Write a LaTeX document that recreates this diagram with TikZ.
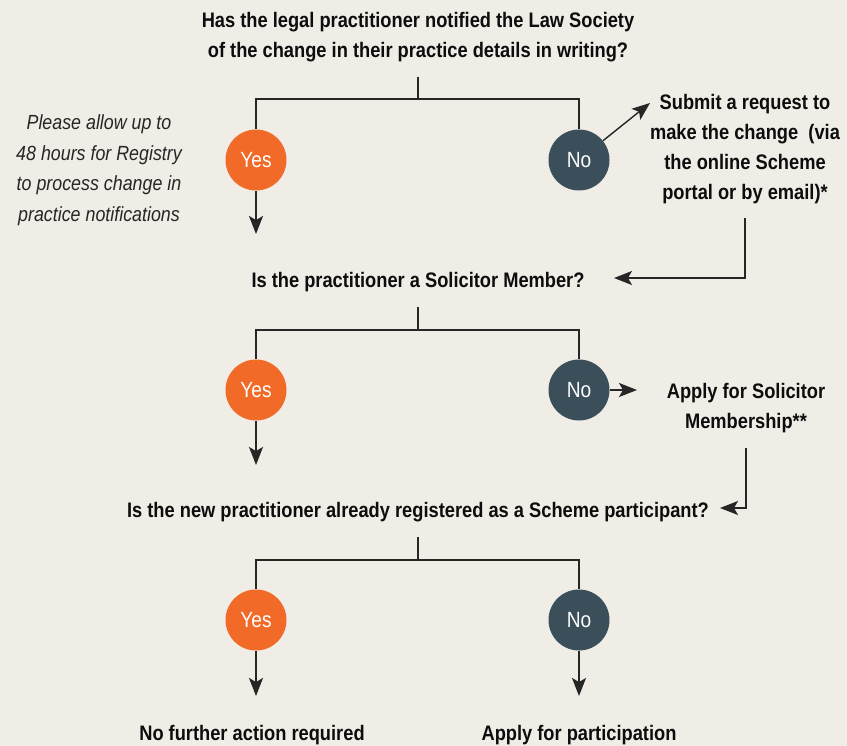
\documentclass[tikz,border=0pt]{standalone}
\usepackage{fontspec}
\setmainfont{Liberation Sans}[FakeStretch=0.87]
\usepackage{xcolor}
\usepackage{tikz}
\usetikzlibrary{arrows.meta,positioning}

\definecolor{bgcol}{HTML}{F0EDE7}
\definecolor{yescol}{HTML}{F26A27}
\definecolor{nocol}{HTML}{3A4F5A}
\definecolor{linecol}{HTML}{262626}
\tikzset{
  ques/.style={font=\bfseries\fontsize{21}{30}\selectfont, align=center, text=black!95, inner sep=0pt},
  note/.style={font=\itshape\fontsize{20.5}{30.5}\selectfont, align=center, text=black!85, inner sep=0pt},
  yesnode/.style={circle, fill=yescol, minimum size=61pt, inner sep=0pt, text=white, font=\fontsize{22}{24}\selectfont},
  nonode/.style={yesnode, fill=nocol},
  conn/.style={draw=linecol, line width=1.4pt},
  arr/.style={conn, -{Stealth[length=18pt,width=14pt,inset=4pt]}},
}

\begin{document}
\begin{tikzpicture}[x=1pt,y=-1pt]
  \fill[bgcol] (0,0) rectangle (847,746); %背景 即边界
  \useasboundingbox (0,0) rectangle (847,746);

  % 问题
  \node[ques] (q1) at (418,37) {Has the legal practitioner notified the Law Society\\of the change in their practice details in writing?};
  \node[ques] (q2) at (418,282) {Is the practitioner a Solicitor Member?};
  \node[ques] (q3) at (418,512) {Is the new practitioner already registered as a Scheme participant?};

  % 是 / 否
  \node[yesnode] (y1) at (256,160) {Yes};
  \node[nonode]  (n1) at (579,160) {No};
  \node[yesnode] (y2) at (256,390) {Yes};
  \node[nonode]  (n2) at (579,390) {No};
  \node[yesnode] (y3) at (256,620) {Yes};
  \node[nonode]  (n3) at (579,620) {No};

  % 结果
  \node[ques] (submit) at (745,149) {Submit a request to\\make the change~ (via\\the online Scheme\\portal or by email)*};
  \node[ques] (applysol) at (746,408) {Apply for Solicitor\\Membership**};
  \node[ques] (nofurther) at (252,735) {No further action required};
  \node[ques] (applypart) at (579,735) {Apply for participation};
  \node[note] (wait) at (99,170) {Please allow up to\\48 hours for Registry\\to process change in\\practice notifications};

  \coordinate (b1) at (418,99);
  \coordinate (b2) at (418,330);
  \coordinate (b3) at (418,560);
  \draw[conn] (418,77) -- (b1);
  \draw[conn] (418,307) -- (b2);
  \draw[conn] (418,537) -- (b3);
  \draw[conn] (y1) |- (b1) -| (n1);
  \draw[conn] (y2) |- (b2) -| (n2);
  \draw[conn] (y3) |- (b3) -| (n3);

  \draw[arr] (y1) -- (256,234);
  \draw[arr] (y2) -- (256,465);
  \draw[arr] (y3) -- (256,696);
  \draw[arr] (n3) -- (579,696);
  \draw[arr] (n1) -- (650,103);
  \draw[arr] (n2) -- (637,390);

  \draw[arr] (745,218) |- (614,278);
  \draw[arr] (746,448) |- (720,508);
\end{tikzpicture}
\end{document}
